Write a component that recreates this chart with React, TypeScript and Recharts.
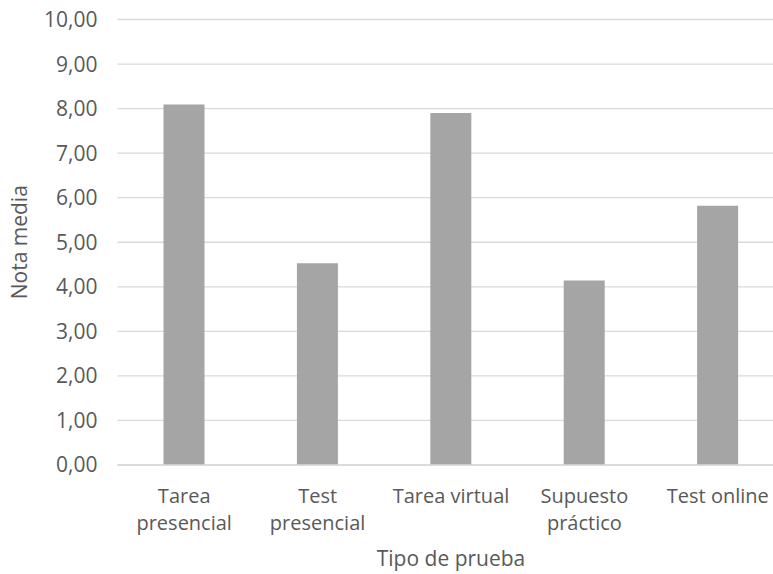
import React from 'react';
import { BarChart, Bar, XAxis, YAxis, CartesianGrid, Label } from 'recharts';

const categories = ['Tarea presencial', 'Test presencial', 'Tarea virtual', 'Supuesto práctico', 'Test online'];
const notaMedia = [8.09, 4.53, 7.9, 4.14, 5.82];
const yTicks = [0, 1, 2, 3, 4, 5, 6, 7, 8, 9, 10];

const data = categories.map((name, i) => ({ name, value: notaMedia[i] }));

const FONT = '"Open Sans", "Noto Sans", sans-serif';
const TEXT = '#595959';

const wrap = (label: string) => (label.length > 13 ? label.split(' ') : [label]);

const CategoryTick = ({ x, y, payload }: any) => {
    const lines = wrap(String(payload.value));
    return (
        <text x={x} y={y + 38} textAnchor="middle" fill={TEXT} fontFamily={FONT} fontSize={20}>
            {lines.map((line, i) => (
                <tspan key={i} x={x} dy={i === 0 ? 0 : 27}>{line}</tspan>
            ))}
        </text>
    );
};

const YTitle = ({ viewBox }: any) => {
    const cx = viewBox.x + 19;
    const cy = viewBox.y + viewBox.height / 2;
    return (
        <text x={cx} y={cy} transform={`rotate(-90 ${cx} ${cy})`} textAnchor="middle" dominantBaseline="central"
            fill={TEXT} fontFamily={FONT} fontSize={21}>Nota media</text>
    );
};

const XTitle = ({ viewBox }: any) => {
    const cx = viewBox.x + viewBox.width / 2;
    return (
        <text x={cx} y={viewBox.y + 101} textAnchor="middle" fill={TEXT} fontFamily={FONT} fontSize={21}>Tipo de prueba</text>
    );
};

export default function App() {
    return (
        <div style={{ position: 'absolute', left: 0, top: 0, width: 773, height: 574, overflow: 'hidden', background: '#fff' }}>
            <BarChart
                width={800}
                height={574}
                data={data}
                margin={{ top: 19.5, right: 15.5, left: 0, bottom: 0 }}
                barCategoryGap="34.5%"
            >
                <CartesianGrid vertical={false} stroke="#d9d9d9" strokeWidth={1.3} />
                <XAxis
                    dataKey="name"
                    height={109}
                    interval={0}
                    tickLine={false}
                    tickSize={0}
                    tickMargin={0}
                    axisLine={{ stroke: '#d9d9d9', strokeWidth: 1.3 }}
                    tick={<CategoryTick />}
                >
                    <Label content={<XTitle />} />
                </XAxis>
                <YAxis
                    width={117.5}
                    domain={[0, 10]}
                    ticks={yTicks}
                    interval={0}
                    axisLine={false}
                    tickLine={false}
                    tickSize={0}
                    tickMargin={20}
                    tickFormatter={(v: number) => v.toFixed(2).replace('.', ',')}
                    tick={{ fill: TEXT, fontFamily: FONT, fontSize: 21 }}
                >
                    <Label content={<YTitle />} />
                </YAxis>
                <Bar dataKey="value" fill="#a5a5a5" isAnimationActive={false} />
            </BarChart>
        </div>
    );
}
